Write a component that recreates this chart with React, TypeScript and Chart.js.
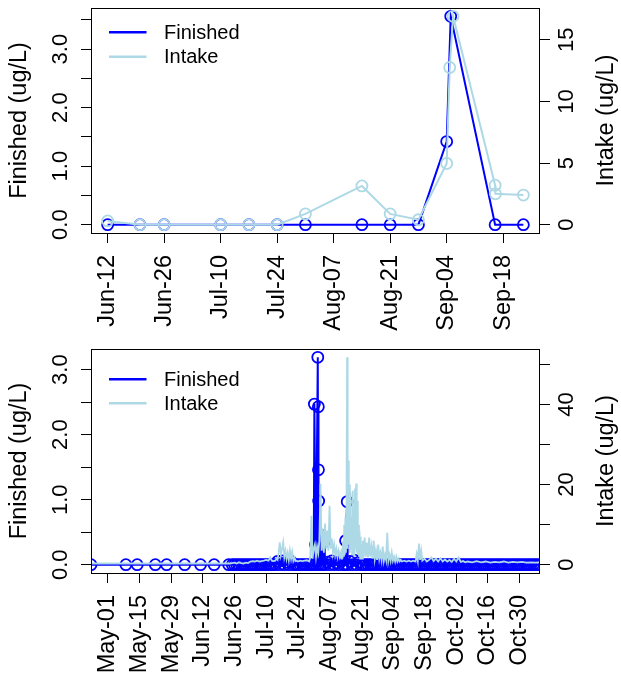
import React, { useEffect, useRef } from "react";
import { Chart, registerables } from "chart.js";

Chart.register(...registerables);

const FONT = "'Liberation Sans', Arial, Helvetica, sans-serif";
const FIN_COLOR = "#0000FF";
const INT_COLOR = "#ADD8E6";
const MONTHS = ["Jan", "Feb", "Mar", "Apr", "May", "Jun", "Jul", "Aug", "Sep", "Oct", "Nov", "Dec"];

// ---------------- top panel ----------------
const topFinishedDates = ["2016-06-12", "2016-06-20", "2016-06-26", "2016-07-10", "2016-07-17", "2016-07-24", "2016-07-31", "2016-08-14", "2016-08-21", "2016-08-28", "2016-09-04", "2016-09-05", "2016-09-16", "2016-09-23"];
const topFinishedValues = [0, 0, 0, 0, 0, 0, 0, 0, 0, 0, 1.42, 3.56, 0, 0];
const topIntakeDates = ["2016-06-12", "2016-06-20", "2016-06-26", "2016-07-10", "2016-07-17", "2016-07-24", "2016-07-31", "2016-08-14", "2016-08-21", "2016-08-28", "2016-09-04", "2016-09-04T18:00", "2016-09-05T14:00", "2016-09-16", "2016-09-16T02:00", "2016-09-23"];
const topIntakeValues = [0.3, 0, 0, 0, 0, 0, 0.87, 3.14, 0.87, 0.4, 4.97, 12.75, 16.9, 3.2, 2.5, 2.4];
const topTickDates = ["2016-06-12", "2016-06-26", "2016-07-10", "2016-07-24", "2016-08-07", "2016-08-21", "2016-09-04", "2016-09-18"];
const topLeftTicks = [0, 0.5, 1, 1.5, 2, 2.5, 3, 3.5];
const topLeftLabels = [0, 1, 2, 3];
const topRightTicks = [0, 5, 10, 15];
const topRightLabels = [0, 5, 10, 15];

// ---------------- bottom panel ----------------
const bottomRefDate = "2016-05-01";
const bottomFinishedWeeklyDates = ["2016-04-23T14:00", "2016-05-09", "2016-05-14", "2016-05-22", "2016-05-27", "2016-06-04", "2016-06-11", "2016-06-17", "2016-06-23T10:00"];
const bottomFinishedWeeklyValues = [0, 0, 0, 0, 0, 0, 0, 0, 0];
const bottomFinishedDailyStart = "2016-06-25";
const bottomFinishedDailyValues = [
  0, 0, 0, 0, 0, 0, 0, 0, 0, 0,
  0, 0, 0, 0, 0, 0, 0, 0, 0, 0,
  0.05, 0, 0.06, 0, 0.04, 0, 0.05, 0, 0, 0,
  0, 0, 0, 0, 0, 0, 0, 0, 0, 0,
  0, 0, 0.04, 0, 0.06, 0, 0.03, 0, 0.05, 0,
  0, 0, 0.05, 0, 0.07, 0, 0.04, 0, 0, 0,
  0, 0, 0, 0, 0, 0, 0, 0, 0, 0,
  0, 0, 0, 0, 0, 0, 0, 0, 0, 0,
  0, 0, 0, 0, 0, 0, 0, 0, 0, 0,
  0, 0, 0, 0, 0, 0, 0, 0, 0, 0,
  0, 0, 0, 0, 0, 0, 0, 0, 0, 0,
  0, 0, 0, 0, 0, 0, 0, 0, 0, 0,
  0, 0, 0, 0, 0, 0, 0, 0, 0, 0,
  0, 0, 0, 0, 0, 0, 0,
];
// event samples: [days after bottomRefDate, value]
const bottomFinishedEvents: [number, number][] = [
  [91.3, 2.47], [91.8, 0.31], [92.8, 3.19], [93.05, 2.43], [93.1, 1.46], [93.2, 0.98],
  [94.1, 0.46], [95.8, 0.36], [105.1, 0.37], [105.8, 0.97],
];
// intake readings: [days after bottomRefDate, value]
const bottomIntakeReadings: [number, number][] = [
  [-7.4, 0.3], [0, 0.3], [10, 0.3], [20, 0.3], [30, 0.3], [40, 0.3], [50, 0.3], [54, 0.3],
  [55, 0.4], [56, 0.5], [57, 0.3], [58, 0.6], [59, 0.4], [60, 0.3], [61, 0.5], [62, 0.4],
  [63, 0.8], [64, 0.9], [65, 0.8], [66, 1.0], [67, 0.8], [68, 0.9], [69, 1.0], [70, 1.2], [71, 1.0], [71.8, 1.8], [72.5, 1.0], [73, 0.9],
  [74, 1.0], [74.5, 1.5], [75, 1.2], [75.5, 3.0], [76, 5.6], [76.5, 2.5], [77, 4.0], [77.5, 5.6], [78, 2.0], [78.5, 3.5], [79, 1.5], [79.5, 3.0],
  [80, 1.2], [80.5, 3.5], [81, 1.5], [81.5, 3.2], [82, 1.0], [82.5, 1.8], [83, 0.9], [83.5, 1.0], [84, 0.8],
  [85, 1.0], [86, 0.9], [87, 1.0], [88, 1.1], [89, 0.8],
  [89.5, 2.0], [90, 12.2], [90.5, 1.5], [91, 4.0], [91.5, 5.0], [92, 2.0], [92.5, 4.5], [93, 3.0], [93.5, 6.0], [94, 20.2], [94.5, 3.5],
  [95, 9.0], [95.5, 3.0], [96, 10.3], [96.5, 4.0], [97, 8.5], [97.5, 3.5], [98, 14.7], [98.5, 4.0], [99, 6.5], [99.5, 3.0],
  [100, 5.0], [100.5, 2.5], [101, 4.0], [101.5, 2.0], [102, 3.5], [102.5, 2.0],
  [103, 3.0], [103.25, 1.5], [103.5, 4.0], [103.75, 1.8], [104, 6.0], [104.25, 2.0], [104.5, 10.0], [104.75, 2.5],
  [105, 12.0], [105.25, 3.0], [105.5, 15.0], [105.75, 51.8], [106, 4.0], [106.25, 26.0], [106.5, 5.0], [106.75, 20.0],
  [107, 3.0], [107.25, 18.0], [107.5, 4.0], [107.75, 12.0], [108, 2.5], [108.25, 18.5], [108.5, 3.0], [108.75, 14.0],
  [109, 2.0], [109.25, 19.0], [109.5, 4.0], [109.75, 20.3], [110, 3.0], [110.25, 16.0], [110.5, 2.5], [110.75, 10.0],
  [111, 2.0], [111.25, 8.5], [111.5, 1.5], [111.75, 7.0], [112, 2.0], [112.25, 5.0], [112.5, 1.5], [112.75, 6.0], [113, 2.0],
  [113.5, 6.8], [114, 2.0], [114.5, 5.5], [115, 1.8], [115.5, 6.8], [116, 2.0], [116.5, 4.5], [117, 1.5], [117.5, 6.0], [118, 1.5],
  [118.5, 3.5], [119, 1.2], [119.5, 5.0], [120, 1.5], [120.5, 3.0], [121, 1.2], [121.5, 4.5], [122, 1.0], [122.5, 2.5], [123, 1.2],
  [123.5, 8.0], [124, 1.0], [124.5, 2.5], [125, 1.0], [125.5, 3.0], [126, 1.0], [126.5, 2.0], [127, 0.8], [127.5, 2.0], [128, 0.8],
  [128.5, 1.5], [129, 0.8], [129.5, 1.2], [130, 0.8],
  [131, 1.0], [132, 0.8], [133, 1.0], [134, 0.8], [135, 1.0], [136, 0.8], [136.5, 2.6], [137, 1.0], [137.5, 5.3], [138, 1.2],
  [138.5, 3.5], [139, 1.0], [140, 1.5], [141, 0.8], [142, 1.2], [143, 1.8], [144, 0.9], [145, 1.5], [146, 0.8], [147, 1.6],
  [148, 0.8], [149, 1.3], [150, 0.8],
  [151, 1.2], [152, 0.7], [153, 1.5], [154, 0.8], [155, 1.8], [156, 0.7], [157, 0.9], [158, 0.6], [159, 0.8], [161, 0.6],
  [163, 0.9], [165, 0.6], [167, 0.8], [169, 0.5], [171, 0.7], [173, 0.6], [175, 0.8], [177, 0.5], [179, 0.7], [181, 0.6],
  [183, 0.7], [185, 0.5], [187, 0.6], [189, 0.5], [191, 0.6],
];
const bottomTickDates = ["2016-05-01", "2016-05-15", "2016-05-29", "2016-06-12", "2016-06-26", "2016-07-10", "2016-07-24", "2016-08-07", "2016-08-21", "2016-09-04", "2016-09-18", "2016-10-02", "2016-10-16", "2016-10-30"];
const bottomLeftTicks = [0, 0.5, 1, 1.5, 2, 2.5, 3];
const bottomLeftLabels = [0, 1, 2, 3];
const bottomRightTicks = [0, 10, 20, 30, 40, 50];
const bottomRightLabels = [0, 20, 40];

// ---------------- helpers ----------------
const DAY_MS = 86400000;
function toDay(s: string): number {
  const iso = s.length <= 10 ? s + "T00:00:00Z" : s + ":00Z";
  return Date.parse(iso) / DAY_MS;
}
function fmtDay(d: number): string {
  const dt = new Date(Math.round(d) * DAY_MS);
  return MONTHS[dt.getUTCMonth()] + "-" + String(dt.getUTCDate()).padStart(2, "0");
}
function padRange(lo: number, hi: number, f = 0.04): [number, number] {
  const r = hi - lo;
  return [lo - f * r, hi + f * r];
}

type Pt = { x: number; y: number };

interface PanelParams {
  height: number;
  top: number;
  xAxisHeight: number;
  finished: Pt[];
  intake: Pt[];
  intakePointRadius: number;
  intakeLineWidth: number;
  xRange: [number, number];
  xTicks: number[];
  leftRange: [number, number];
  leftTicks: number[];
  leftLabels: number[];
  rightRange: [number, number];
  rightTicks: number[];
  rightLabels: number[];
  legendRows: [number, number];
}

const TICK_SIZE_X = 23.5;
const TICK_SIZE_Y = 22;
const TITLE_SIZE = 23.5;
const LEGEND_SIZE = 20;

function rPlugin(p: PanelParams) {
  return {
    id: "rstyle",
    afterDraw(chart: any) {
      const ctx = chart.ctx as CanvasRenderingContext2D;
      const a = chart.chartArea;
      ctx.save();
      // plot box
      ctx.strokeStyle = "#000";
      ctx.lineWidth = 1;
      ctx.strokeRect(Math.round(a.left) + 0.5, Math.round(a.top) + 0.5, Math.round(a.right - a.left) - 1, Math.round(a.bottom - a.top));
      // y tick labels (rotated, R style)
      ctx.fillStyle = "#000";
      ctx.textAlign = "center";
      ctx.textBaseline = "middle";
      ctx.font = `${TICK_SIZE_Y}px ${FONT}`;
      const yl = chart.scales.y;
      const yr = chart.scales.y1;
      for (const v of p.leftLabels) {
        const py = yl.getPixelForValue(v);
        ctx.save();
        ctx.translate(a.left - 30, py);
        ctx.rotate(-Math.PI / 2);
        ctx.fillText(v.toFixed(1), 0, 0);
        ctx.restore();
      }
      for (const v of p.rightLabels) {
        const py = yr.getPixelForValue(v);
        ctx.save();
        ctx.translate(a.right + 27, py);
        ctx.rotate(-Math.PI / 2);
        ctx.fillText(String(v), 0, 0);
        ctx.restore();
      }
      // axis titles
      ctx.font = `${TITLE_SIZE}px ${FONT}`;
      const cy = (a.top + a.bottom) / 2;
      ctx.save();
      ctx.translate(20, cy);
      ctx.rotate(-Math.PI / 2);
      ctx.fillText("Finished (ug/L)", 0, 0);
      ctx.restore();
      ctx.save();
      ctx.translate(607, cy);
      ctx.rotate(-Math.PI / 2);
      ctx.fillText("Intake (ug/L)", 0, 0);
      ctx.restore();
      // legend
      const items = [
        { label: "Finished", color: FIN_COLOR },
        { label: "Intake", color: INT_COLOR },
      ];
      ctx.font = `${LEGEND_SIZE}px ${FONT}`;
      ctx.textAlign = "left";
      items.forEach((it, i) => {
        const y = a.top + p.legendRows[i];
        ctx.strokeStyle = it.color;
        ctx.lineWidth = 2.5;
        ctx.beginPath();
        ctx.moveTo(a.left + 18, y);
        ctx.lineTo(a.left + 55.5, y);
        ctx.stroke();
        ctx.fillStyle = "#000";
        ctx.fillText(it.label, a.left + 73, y + 1);
      });
      ctx.restore();
    },
  };
}

function axisGrid() {
  return { drawOnChartArea: false, drawTicks: true, tickLength: 10, color: "#000", lineWidth: 1 };
}

function buildConfig(p: PanelParams): any {
  return {
    type: "line",
    data: {
      datasets: [
        {
          label: "Intake",
          data: p.intake,
          yAxisID: "y1",
          borderColor: INT_COLOR,
          borderWidth: p.intakeLineWidth,
          pointRadius: p.intakePointRadius,
          pointBorderColor: INT_COLOR,
          pointBackgroundColor: "rgba(0,0,0,0)",
          pointBorderWidth: 1.8,
          tension: 0,
          fill: false,
          order: 0,
        },
        {
          label: "Finished",
          data: p.finished,
          yAxisID: "y",
          borderColor: FIN_COLOR,
          borderWidth: 2,
          pointRadius: 5.5,
          pointBorderColor: FIN_COLOR,
          pointBackgroundColor: "rgba(0,0,0,0)",
          pointBorderWidth: 1.8,
          tension: 0,
          fill: false,
          order: 1,
        },
      ],
    },
    options: {
      responsive: false,
      animation: false,
      devicePixelRatio: 1,
      events: [],
      layout: { padding: { top: p.top, left: 0, right: 0, bottom: 0 } },
      plugins: { legend: { display: false }, tooltip: { enabled: false } },
      scales: {
        x: {
          type: "linear",
          position: "bottom",
          min: p.xRange[0],
          max: p.xRange[1],
          afterBuildTicks: (s: any) => {
            s.ticks = p.xTicks.map((v) => ({ value: v }));
          },
          afterFit: (s: any) => {
            s.height = p.xAxisHeight;
          },
          ticks: {
            autoSkip: false,
            minRotation: 90,
            maxRotation: 90,
            padding: 12,
            color: "#000",
            font: { family: FONT, size: TICK_SIZE_X },
            callback: (v: any) => fmtDay(Number(v)),
          },
          grid: axisGrid(),
          border: { display: false },
        },
        y: {
          type: "linear",
          position: "left",
          min: p.leftRange[0],
          max: p.leftRange[1],
          afterBuildTicks: (s: any) => {
            s.ticks = p.leftTicks.map((v) => ({ value: v }));
          },
          afterFit: (s: any) => {
            s.width = 91;
          },
          ticks: { display: false },
          grid: axisGrid(),
          border: { display: false },
        },
        y1: {
          type: "linear",
          position: "right",
          min: p.rightRange[0],
          max: p.rightRange[1],
          afterBuildTicks: (s: any) => {
            s.ticks = p.rightTicks.map((v) => ({ value: v }));
          },
          afterFit: (s: any) => {
            s.width = 81;
          },
          ticks: { display: false },
          grid: axisGrid(),
          border: { display: false },
        },
      },
    },
    plugins: [rPlugin(p)],
  };
}

function zip(dates: string[], values: number[]): Pt[] {
  return dates.map((d, i) => ({ x: toDay(d), y: values[i] }));
}

function makeTop(): PanelParams {
  const finished = zip(topFinishedDates, topFinishedValues);
  const intake = zip(topIntakeDates, topIntakeValues);
  const xs = [...finished, ...intake].map((p) => p.x);
  const fin = finished.map((p) => p.y);
  const inn = intake.map((p) => p.y);
  return {
    height: 336,
    top: 8,
    xAxisHeight: 103,
    finished,
    intake,
    intakePointRadius: 5.5,
    intakeLineWidth: 2,
    xRange: padRange(Math.min(...xs), Math.max(...xs)),
    xTicks: topTickDates.map(toDay),
    leftRange: padRange(Math.min(...fin), Math.max(...fin)),
    leftTicks: topLeftTicks,
    leftLabels: topLeftLabels,
    rightRange: padRange(Math.min(...inn), Math.max(...inn)),
    rightTicks: topRightTicks,
    rightLabels: topRightLabels,
    legendRows: [24.3, 48.7],
  };
}

function makeBottom(): PanelParams {
  const ref = toDay(bottomRefDate);
  const dailyStart = toDay(bottomFinishedDailyStart);
  const finished: Pt[] = [
    ...zip(bottomFinishedWeeklyDates, bottomFinishedWeeklyValues),
    ...bottomFinishedDailyValues.map((v, i) => ({ x: dailyStart + i, y: v })),
    ...bottomFinishedEvents.map(([d, v]) => ({ x: ref + d, y: v })),
  ].sort((a, b) => a.x - b.x);
  const intake: Pt[] = bottomIntakeReadings.map(([d, v]) => ({ x: ref + d, y: v }));
  const xs = [...finished, ...intake].map((p) => p.x);
  const fin = finished.map((p) => p.y);
  const inn = intake.map((p) => p.y);
  return {
    height: 337,
    top: 13,
    xAxisHeight: 100,
    finished,
    intake,
    intakePointRadius: 0,
    intakeLineWidth: 1.8,
    xRange: [Math.min(...xs), Math.max(...xs)],
    xTicks: bottomTickDates.map(toDay),
    leftRange: padRange(0, Math.max(...fin)),
    leftTicks: bottomLeftTicks,
    leftLabels: bottomLeftLabels,
    rightRange: padRange(0, Math.max(...inn)),
    rightTicks: bottomRightTicks,
    rightLabels: bottomRightLabels,
    legendRows: [30.3, 54.3],
  };
}

function Panel({ params }: { params: PanelParams }) {
  const ref = useRef<HTMLCanvasElement>(null);
  useEffect(() => {
    if (!ref.current) return;
    const chart = new Chart(ref.current, buildConfig(params));
    return () => chart.destroy();
  }, [params]);
  return (
    <canvas
      ref={ref}
      width={621}
      height={params.height}
      style={{ display: "block", width: 621, height: params.height }}
    />
  );
}

const TOP = makeTop();
const BOTTOM = makeBottom();

export default function App() {
  return (
    <div style={{ position: "absolute", left: 0, top: 0, width: 621, height: 673, background: "#fff", overflow: "hidden" }}>
      <Panel params={TOP} />
      <Panel params={BOTTOM} />
    </div>
  );
}
